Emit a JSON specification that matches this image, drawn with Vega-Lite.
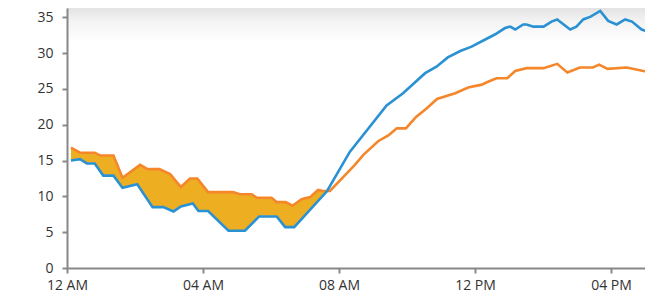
{
  "$schema": "https://vega.github.io/schema/vega-lite/v6.json",
  "width": 578,
  "height": 260,
  "autosize": "none",
  "padding": {"left": 67, "top": 8, "right": 0, "bottom": 31},
  "background": "#ffffff",
  "config": {"view": {"stroke": null}},
  "datasets": {
    "readings": [
      {"t": "2024-01-01T00:07", "s": "orange", "v": 16.8},
      {"t": "2024-01-01T00:23", "s": "orange", "v": 16.1},
      {"t": "2024-01-01T00:49", "s": "orange", "v": 16.1},
      {"t": "2024-01-01T00:59", "s": "orange", "v": 15.7},
      {"t": "2024-01-01T01:22", "s": "orange", "v": 15.7},
      {"t": "2024-01-01T01:38", "s": "orange", "v": 12.6},
      {"t": "2024-01-01T02:09", "s": "orange", "v": 14.4},
      {"t": "2024-01-01T02:22", "s": "orange", "v": 13.8},
      {"t": "2024-01-01T02:43", "s": "orange", "v": 13.8},
      {"t": "2024-01-01T03:02", "s": "orange", "v": 13.1},
      {"t": "2024-01-01T03:21", "s": "orange", "v": 11.3},
      {"t": "2024-01-01T03:37", "s": "orange", "v": 12.5},
      {"t": "2024-01-01T03:50", "s": "orange", "v": 12.5},
      {"t": "2024-01-01T04:09", "s": "orange", "v": 10.6},
      {"t": "2024-01-01T04:53", "s": "orange", "v": 10.6},
      {"t": "2024-01-01T05:05", "s": "orange", "v": 10.3},
      {"t": "2024-01-01T05:26", "s": "orange", "v": 10.3},
      {"t": "2024-01-01T05:35", "s": "orange", "v": 9.8},
      {"t": "2024-01-01T06:01", "s": "orange", "v": 9.8},
      {"t": "2024-01-01T06:10", "s": "orange", "v": 9.2},
      {"t": "2024-01-01T06:26", "s": "orange", "v": 9.2},
      {"t": "2024-01-01T06:38", "s": "orange", "v": 8.7},
      {"t": "2024-01-01T06:54", "s": "orange", "v": 9.6},
      {"t": "2024-01-01T07:09", "s": "orange", "v": 9.9},
      {"t": "2024-01-01T07:23", "s": "orange", "v": 10.9},
      {"t": "2024-01-01T07:32", "s": "orange", "v": 10.75},
      {"t": "2024-01-01T07:39", "s": "orange", "v": 10.75},
      {"t": "2024-01-01T07:44", "s": "orange", "v": 10.75},
      {"t": "2024-01-01T08:28", "s": "orange", "v": 14.4},
      {"t": "2024-01-01T08:43", "s": "orange", "v": 15.8},
      {"t": "2024-01-01T09:09", "s": "orange", "v": 17.7},
      {"t": "2024-01-01T09:27", "s": "orange", "v": 18.5},
      {"t": "2024-01-01T09:42", "s": "orange", "v": 19.5},
      {"t": "2024-01-01T09:58", "s": "orange", "v": 19.5},
      {"t": "2024-01-01T10:16", "s": "orange", "v": 21.1},
      {"t": "2024-01-01T10:35", "s": "orange", "v": 22.3},
      {"t": "2024-01-01T10:53", "s": "orange", "v": 23.6},
      {"t": "2024-01-01T11:25", "s": "orange", "v": 24.4},
      {"t": "2024-01-01T11:48", "s": "orange", "v": 25.2},
      {"t": "2024-01-01T12:12", "s": "orange", "v": 25.6},
      {"t": "2024-01-01T12:23", "s": "orange", "v": 26.0},
      {"t": "2024-01-01T12:38", "s": "orange", "v": 26.5},
      {"t": "2024-01-01T12:57", "s": "orange", "v": 26.5},
      {"t": "2024-01-01T13:11", "s": "orange", "v": 27.5},
      {"t": "2024-01-01T13:31", "s": "orange", "v": 27.9},
      {"t": "2024-01-01T14:01", "s": "orange", "v": 27.9},
      {"t": "2024-01-01T14:25", "s": "orange", "v": 28.5},
      {"t": "2024-01-01T14:43", "s": "orange", "v": 27.3},
      {"t": "2024-01-01T15:05", "s": "orange", "v": 28.0},
      {"t": "2024-01-01T15:28", "s": "orange", "v": 28.0},
      {"t": "2024-01-01T15:39", "s": "orange", "v": 28.4},
      {"t": "2024-01-01T15:54", "s": "orange", "v": 27.8},
      {"t": "2024-01-01T16:28", "s": "orange", "v": 28.0},
      {"t": "2024-01-01T16:57", "s": "orange", "v": 27.5},
      {"t": "2024-01-01T17:05", "s": "orange", "v": 27.4},
      {"t": "2024-01-01T00:07", "s": "blue", "v": 15.0},
      {"t": "2024-01-01T00:23", "s": "blue", "v": 15.2},
      {"t": "2024-01-01T00:35", "s": "blue", "v": 14.6},
      {"t": "2024-01-01T00:49", "s": "blue", "v": 14.6},
      {"t": "2024-01-01T01:04", "s": "blue", "v": 12.9},
      {"t": "2024-01-01T01:22", "s": "blue", "v": 12.9},
      {"t": "2024-01-01T01:38", "s": "blue", "v": 11.2},
      {"t": "2024-01-01T02:04", "s": "blue", "v": 11.7},
      {"t": "2024-01-01T02:31", "s": "blue", "v": 8.5},
      {"t": "2024-01-01T02:50", "s": "blue", "v": 8.5},
      {"t": "2024-01-01T03:08", "s": "blue", "v": 7.9},
      {"t": "2024-01-01T03:21", "s": "blue", "v": 8.6},
      {"t": "2024-01-01T03:42", "s": "blue", "v": 9.0},
      {"t": "2024-01-01T03:52", "s": "blue", "v": 7.95},
      {"t": "2024-01-01T04:09", "s": "blue", "v": 7.95},
      {"t": "2024-01-01T04:45", "s": "blue", "v": 5.2},
      {"t": "2024-01-01T05:14", "s": "blue", "v": 5.2},
      {"t": "2024-01-01T05:39", "s": "blue", "v": 7.2},
      {"t": "2024-01-01T06:10", "s": "blue", "v": 7.2},
      {"t": "2024-01-01T06:25", "s": "blue", "v": 5.7},
      {"t": "2024-01-01T06:41", "s": "blue", "v": 5.7},
      {"t": "2024-01-01T07:39", "s": "blue", "v": 10.75},
      {"t": "2024-01-01T08:19", "s": "blue", "v": 16.2},
      {"t": "2024-01-01T09:24", "s": "blue", "v": 22.7},
      {"t": "2024-01-01T09:53", "s": "blue", "v": 24.4},
      {"t": "2024-01-01T10:32", "s": "blue", "v": 27.2},
      {"t": "2024-01-01T10:52", "s": "blue", "v": 28.1},
      {"t": "2024-01-01T11:12", "s": "blue", "v": 29.4},
      {"t": "2024-01-01T11:34", "s": "blue", "v": 30.3},
      {"t": "2024-01-01T11:54", "s": "blue", "v": 30.9},
      {"t": "2024-01-01T12:18", "s": "blue", "v": 31.9},
      {"t": "2024-01-01T12:35", "s": "blue", "v": 32.6},
      {"t": "2024-01-01T12:53", "s": "blue", "v": 33.5},
      {"t": "2024-01-01T13:02", "s": "blue", "v": 33.7},
      {"t": "2024-01-01T13:11", "s": "blue", "v": 33.3},
      {"t": "2024-01-01T13:25", "s": "blue", "v": 34.0},
      {"t": "2024-01-01T13:31", "s": "blue", "v": 34.0},
      {"t": "2024-01-01T13:43", "s": "blue", "v": 33.7},
      {"t": "2024-01-01T14:01", "s": "blue", "v": 33.7},
      {"t": "2024-01-01T14:15", "s": "blue", "v": 34.4},
      {"t": "2024-01-01T14:25", "s": "blue", "v": 34.7},
      {"t": "2024-01-01T14:48", "s": "blue", "v": 33.3},
      {"t": "2024-01-01T14:59", "s": "blue", "v": 33.7},
      {"t": "2024-01-01T15:11", "s": "blue", "v": 34.7},
      {"t": "2024-01-01T15:24", "s": "blue", "v": 35.1},
      {"t": "2024-01-01T15:41", "s": "blue", "v": 35.9},
      {"t": "2024-01-01T15:55", "s": "blue", "v": 34.5},
      {"t": "2024-01-01T16:10", "s": "blue", "v": 34.0},
      {"t": "2024-01-01T16:25", "s": "blue", "v": 34.7},
      {"t": "2024-01-01T16:37", "s": "blue", "v": 34.4},
      {"t": "2024-01-01T16:54", "s": "blue", "v": 33.3},
      {"t": "2024-01-01T17:05", "s": "blue", "v": 33.0}
    ]
  },
  "data": {"name": "readings", "format": {"parse": {"t": "date"}}},
  "encoding": {
    "x": {
      "field": "t",
      "type": "temporal",
      "scale": {
        "domain": [
          {"year": 2024, "month": 1, "date": 1, "hours": 0},
          {"year": 2024, "month": 1, "date": 1, "hours": 17}
        ],
        "nice": false
      },
      "axis": {
        "title": null,
        "grid": false,
        "format": "%I %p",
        "values": [
          {"year": 2024, "month": 1, "date": 1, "hours": 0},
          {"year": 2024, "month": 1, "date": 1, "hours": 4},
          {"year": 2024, "month": 1, "date": 1, "hours": 8},
          {"year": 2024, "month": 1, "date": 1, "hours": 12},
          {"year": 2024, "month": 1, "date": 1, "hours": 16}
        ],
        "domainColor": "#888888",
        "domainWidth": 2,
        "tickColor": "#888888",
        "tickWidth": 2,
        "tickSize": 5,
        "labelPadding": 5,
        "labelFont": "Open Sans",
        "labelFontSize": 14,
        "labelColor": "#333333",
        "labelFlush": false,
        "labelOverlap": false,
        "zindex": 2,
        "encoding": {"ticks": {"update": {"y": {"value": -5}}}}
      }
    },
    "y": {
      "field": "v",
      "type": "quantitative",
      "scale": {"domain": [0, 36.3], "nice": false},
      "axis": {
        "title": null,
        "grid": false,
        "values": [0, 5, 10, 15, 20, 25, 30, 35],
        "domainColor": "#888888",
        "domainWidth": 2,
        "tickColor": "#888888",
        "tickWidth": 2,
        "tickSize": 5,
        "labelPadding": 9,
        "labelFont": "Open Sans",
        "labelFontSize": 14,
        "labelColor": "#333333",
        "labelOverlap": false,
        "zindex": 2,
        "encoding": {"ticks": {"update": {"x": {"value": 5}}}}
      }
    }
  },
  "layer": [
    {
      "data": {"values": [{}]},
      "mark": {
        "type": "rect",
        "color": {
          "gradient": "linear",
          "x1": 0, "y1": 0, "x2": 0, "y2": 1,
          "stops": [
            {"offset": 0, "color": "#e3e3e3"},
            {"offset": 0.05, "color": "#f3f3f3"},
            {"offset": 0.13, "color": "#ffffff"},
            {"offset": 1, "color": "#ffffff"}
          ]
        }
      },
      "encoding": {"x": null, "y": null}
    },
    {
      "transform": [
        {"filter": {"field": "s", "equal": "orange"}},
        {"filter": {"field": "t", "lte": {"year": 2024, "month": 1, "date": 1, "hours": 7, "minutes": 39}}}
      ],
      "mark": {"type": "area", "color": "#edae22", "opacity": 1}
    },
    {
      "transform": [
        {"filter": {"field": "s", "equal": "blue"}},
        {"filter": {"field": "t", "lte": {"year": 2024, "month": 1, "date": 1, "hours": 7, "minutes": 39}}}
      ],
      "mark": {"type": "area", "color": "#ffffff", "opacity": 1, "stroke": "#ffffff", "strokeWidth": 1.5}
    },
    {
      "transform": [{"filter": {"field": "s", "equal": "orange"}}],
      "mark": {"type": "line", "color": "#f5872a", "strokeWidth": 2.6, "clip": true}
    },
    {
      "transform": [{"filter": {"field": "s", "equal": "blue"}}],
      "mark": {"type": "line", "color": "#2a91d2", "strokeWidth": 2.6, "clip": true}
    }
  ]
}
